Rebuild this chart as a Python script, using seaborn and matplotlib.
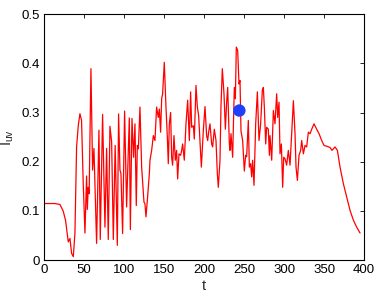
import numpy as np
import matplotlib
matplotlib.use("Agg")
import matplotlib.pyplot as plt
import seaborn as sns

# time series
t = [0, 5, 10, 13.75, 20, 24, 27, 30.4, 32.5, 34.6, 36.7, 38.75, 40.8, 43, 45, 47,
     49, 51.25, 53.3, 54.2, 55.4, 56.5, 58.75, 60.8, 62.5, 65.8, 68.75, 70.4, 73.3,
     76.25, 78.3, 80.4, 82.5, 84.6, 86.7, 89, 91.7, 93.3, 95, 96.25, 98.3, 100.8,
     103.3, 106.7, 108, 110, 112, 113.75, 115.4, 116.7, 118, 120, 122.1, 125, 126.2,
     127.5, 129.2, 131.7, 132.5, 134.6, 136.7, 138.75, 140.8, 142.9, 144.2, 145.8,
     147.1, 148.3, 150.4, 152.5, 154.2, 155.4, 156.7, 158.3, 159.6, 160.8, 162.5,
     164.2, 165.8, 167.1, 168.75, 170.8, 172.1, 173.3, 175.4, 177.5, 179.6, 181.7,
     183.3, 184.6, 186.7, 187.9, 190, 191.7, 193.3, 195, 196.7, 199.2, 201.25,
     203.3, 204.6, 205.8, 207.5, 209.6, 210.8, 212.9, 215, 216.7, 217.9, 220, 221.2,
     222.9, 225, 226.7, 228.3, 229.6, 231.7, 232.5, 233.75, 235.8, 237.9, 239.2,
     240.4, 242.1, 243.75, 245, 246.25, 248.3, 250.4, 252.1, 253.3, 255.4, 256.7,
     258.3, 259.6, 260.8, 262.5, 264.6, 266.7, 268.75, 270.8, 272.9, 274.2, 275.4,
     277.1, 278.3, 280.4, 281.7, 282.5, 284.6, 286.7, 288.75, 290.8, 292.1, 293.75,
     295, 296.7, 298.3, 299.6, 301.25, 303.3, 305.4, 307.5, 309.6, 311.7, 313.75,
     315, 316.7, 318.75, 320.8, 322.1, 324.2, 326.25, 328.3, 330.4, 332.5, 334.6,
     337.5, 340.8, 343.75, 347.1, 350, 354.2, 357.5, 360, 363.75, 366.7, 370,
     374.2, 378.3, 382.5, 386.7, 390.8, 395]
iuv = [0.115, 0.115, 0.115, 0.115, 0.113, 0.100, 0.081, 0.037, 0.044, 0.0135, 0.007,
       0.055, 0.23, 0.275, 0.2975, 0.284, 0.162, 0.055, 0.171, 0.103, 0.148, 0.135,
       0.389, 0.183, 0.227, 0.034, 0.264, 0.042, 0.296, 0.067, 0.227, 0.042, 0.272,
       0.24, 0.042, 0.233, 0.030, 0.297, 0.183, 0.176, 0.054, 0.303, 0.108, 0.289,
       0.062, 0.288, 0.209, 0.277, 0.111, 0.233, 0.226, 0.311, 0.189, 0.118, 0.115,
       0.088, 0.121, 0.175, 0.203, 0.223, 0.253, 0.243, 0.311, 0.29, 0.307, 0.26,
       0.328, 0.338, 0.402, 0.311, 0.25, 0.196, 0.277, 0.3, 0.209, 0.193, 0.253,
       0.203, 0.223, 0.165, 0.216, 0.213, 0.223, 0.236, 0.203, 0.277, 0.325, 0.243,
       0.342, 0.27, 0.273, 0.246, 0.355, 0.311, 0.294, 0.243, 0.189, 0.264, 0.312,
       0.253, 0.243, 0.26, 0.277, 0.236, 0.23, 0.266, 0.243, 0.175, 0.148, 0.203,
       0.311, 0.389, 0.338, 0.266, 0.32, 0.351, 0.236, 0.223, 0.257, 0.209, 0.351,
       0.328, 0.433, 0.426, 0.358, 0.365, 0.262, 0.243, 0.181, 0.213, 0.21, 0.284,
       0.189, 0.196, 0.169, 0.203, 0.152, 0.277, 0.342, 0.243, 0.277, 0.345, 0.351,
       0.311, 0.236, 0.27, 0.266, 0.213, 0.253, 0.203, 0.304, 0.277, 0.338, 0.29,
       0.321, 0.216, 0.236, 0.148, 0.209, 0.206, 0.193, 0.223, 0.193, 0.257, 0.324,
       0.257, 0.189, 0.162, 0.213, 0.223, 0.243, 0.216, 0.233, 0.23, 0.26, 0.257,
       0.266, 0.277, 0.266, 0.257, 0.243, 0.233, 0.231, 0.229, 0.223, 0.23, 0.223,
       0.189, 0.155, 0.128, 0.101, 0.081, 0.067, 0.055]

marker_t = [244.2]
marker_iuv = [0.304]

sns.set_style("white")
plt.rcParams['font.family'] = ['Liberation Sans', 'DejaVu Sans']
plt.rcParams['mathtext.fontset'] = 'custom'
plt.rcParams['mathtext.rm'] = 'Liberation Sans'

fig = plt.figure(figsize=(3.82, 3.0), dpi=100)
ax = fig.add_axes([0.115, 0.133, 0.838, 0.82])

sns.lineplot(x=t, y=iuv, ax=ax, color='#ff0000', linewidth=0.9, estimator=None)
sns.scatterplot(x=marker_t, y=marker_iuv, ax=ax, color='#1f3fff', s=80,
                edgecolor='none', zorder=5)

ax.set_xlim(0, 400)
ax.set_ylim(0, 0.5)
ax.set_xticks(np.arange(0, 401, 50))
ax.set_yticks([0, 0.1, 0.2, 0.3, 0.4, 0.5])
ax.set_yticklabels(['0', '0.1', '0.2', '0.3', '0.4', '0.5'])
ax.tick_params(direction='in', length=3, width=0.6, labelsize=9.5,
               top=True, right=True, pad=3, colors='black')
for s in ax.spines.values():
    s.set_visible(True)
    s.set_color('black')
    s.set_linewidth(0.8)

ax.set_xlabel('t', fontsize=10.5, labelpad=2)
ax.set_ylabel(r'I$_{\mathrm{uv}}$', fontsize=10.5, labelpad=4)

fig.savefig('out.png', dpi=100)
